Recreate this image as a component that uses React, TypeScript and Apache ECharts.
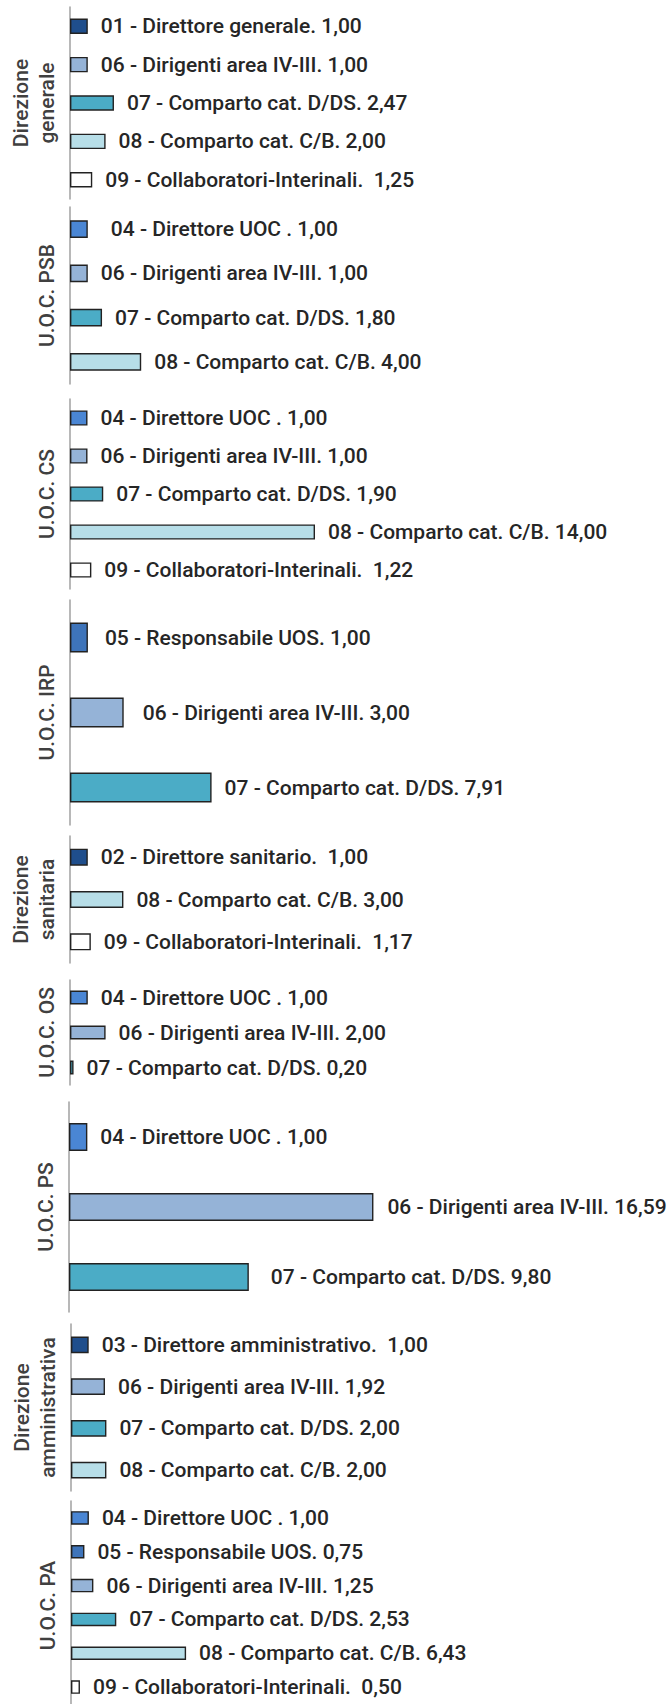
import React, { useEffect, useRef } from "react";
import * as echarts from "echarts";

// ---- Data ----
const titleDG = "Direzione\ngenerale";
const rolesDG = ["01 - Direttore generale.", "06 - Dirigenti area IV-III.", "07 - Comparto cat. D/DS.", "08 - Comparto cat. C/B.", "09 - Collaboratori-Interinali. "];
const valuesDG = [1.0, 1.0, 2.47, 2.0, 1.25];

const titlePSB = "U.O.C. PSB";
const rolesPSB = ["04 - Direttore UOC .", "06 - Dirigenti area IV-III.", "07 - Comparto cat. D/DS.", "08 - Comparto cat. C/B."];
const valuesPSB = [1.0, 1.0, 1.8, 4.0];

const titleCS = "U.O.C. CS";
const rolesCS = ["04 - Direttore UOC .", "06 - Dirigenti area IV-III.", "07 - Comparto cat. D/DS.", "08 - Comparto cat. C/B.", "09 - Collaboratori-Interinali. "];
const valuesCS = [1.0, 1.0, 1.9, 14.0, 1.22];

const titleIRP = "U.O.C. IRP";
const rolesIRP = ["05 - Responsabile UOS.", "06 - Dirigenti area IV-III.", "07 - Comparto cat. D/DS."];
const valuesIRP = [1.0, 3.0, 7.91];

const titleDS = "Direzione\nsanitaria";
const rolesDS = ["02 - Direttore sanitario. ", "08 - Comparto cat. C/B.", "09 - Collaboratori-Interinali. "];
const valuesDS = [1.0, 3.0, 1.17];

const titleOS = "U.O.C. OS";
const rolesOS = ["04 - Direttore UOC .", "06 - Dirigenti area IV-III.", "07 - Comparto cat. D/DS."];
const valuesOS = [1.0, 2.0, 0.2];

const titlePS = "U.O.C. PS";
const rolesPS = ["04 - Direttore UOC .", "06 - Dirigenti area IV-III.", "07 - Comparto cat. D/DS."];
const valuesPS = [1.0, 16.59, 9.8];

const titleDA = "Direzione\namministrativa";
const rolesDA = ["03 - Direttore amministrativo. ", "06 - Dirigenti area IV-III.", "07 - Comparto cat. D/DS.", "08 - Comparto cat. C/B."];
const valuesDA = [1.0, 1.92, 2.0, 2.0];

const titlePA = "U.O.C. PA";
const rolesPA = ["04 - Direttore UOC .", "05 - Responsabile UOS.", "06 - Dirigenti area IV-III.", "07 - Comparto cat. D/DS.", "08 - Comparto cat. C/B.", "09 - Collaboratori-Interinali. "];
const valuesPA = [1.0, 0.75, 1.25, 2.53, 6.43, 0.5];

const axisMax = 20;

// ---- Styles / layout ----
const roleColors: Record<string, string> = {
  "01": "#1F4E8C",
  "02": "#1F4E8C",
  "03": "#1F4E8C",
  "04": "#4A86D4",
  "05": "#3E74BA",
  "06": "#95B3D7",
  "07": "#4BACC6",
  "08": "#B7DEE8",
  "09": "#FFFFFF",
};

const panels = [
  { title: titleDG, roles: rolesDG, values: valuesDG },
  { title: titlePSB, roles: rolesPSB, values: valuesPSB },
  { title: titleCS, roles: rolesCS, values: valuesCS },
  { title: titleIRP, roles: rolesIRP, values: valuesIRP },
  { title: titleDS, roles: rolesDS, values: valuesDS },
  { title: titleOS, roles: rolesOS, values: valuesOS },
  { title: titlePS, roles: rolesPS, values: valuesPS },
  { title: titleDA, roles: rolesDA, values: valuesDA },
  { title: titlePA, roles: rolesPA, values: valuesPA },
];

const layout = [
  { top: 7, height: 192, left: 70, width: 356 },
  { top: 207, height: 177, left: 70, width: 356 },
  { top: 399, height: 190, left: 70, width: 350 },
  { top: 600, height: 225, left: 70, width: 358 },
  { top: 836, height: 127, left: 70, width: 356 },
  { top: 980, height: 105, left: 70, width: 356 },
  { top: 1102, height: 210, left: 69, width: 367 },
  { top: 1324, height: 167, left: 71, width: 354 },
  { top: 1501, height: 209, left: 71, width: 358 },
];

// per-label gap tweaks (panel-index:item-index -> px)
const labelGap: Record<string, number> = { "1:0": 23, "3:0": 17, "3:1": 19, "6:0": 13, "6:1": 14, "6:2": 22 };

const FONT = "Roboto";
const TITLE_GAP = 10;

const fmt = (v: number) => v.toFixed(2).replace(".", ",");

export default function App() {
  const ref = useRef<HTMLDivElement>(null);
  useEffect(() => {
    if (!ref.current) return;
    const chart = echarts.init(ref.current, undefined, { renderer: "svg" });
    const grid = layout.map((l) => ({ left: l.left, top: l.top, width: l.width, height: l.height, containLabel: false }));
    const xAxis = panels.map((_, i) => ({ type: "value", gridIndex: i, min: 0, max: axisMax, show: false }));
    const yAxis = panels.map((p, i) => ({
      type: "category",
      gridIndex: i,
      inverse: true,
      data: p.roles,
      axisLine: { show: true, lineStyle: { color: "#A0A0A0", width: 1.5 } },
      axisTick: { show: false },
      axisLabel: { show: false },
      splitLine: { show: false },
    }));
    const series = panels.map((p, i) => ({
      type: "bar",
      xAxisIndex: i,
      yAxisIndex: i,
      barCategoryGap: "60%",
      data: p.values.map((v, j) => {
        const gap = labelGap[`${i}:${j}`];
        return {
          value: v,
          itemStyle: { color: roleColors[p.roles[j].slice(0, 2)] },
          ...(gap != null ? { label: { distance: gap } } : {}),
        };
      }),
      itemStyle: { borderColor: "#222222", borderWidth: 1.4 },
      label: {
        show: true,
        position: "right",
        distance: 13,
        color: "#262626",
        fontFamily: FONT,
        fontSize: 21,
        fontWeight: 500,
        formatter: (prm: any) => `${prm.name} ${fmt(prm.value)}`,
      },
    }));
    const graphic = panels.map((p, i) => ({
      type: "text",
      x: layout[i].left - TITLE_GAP,
      y: layout[i].top + layout[i].height / 2,
      rotation: Math.PI / 2,
      silent: true,
      style: {
        text: p.title,
        fontFamily: FONT,
        fontSize: 21,
        fontWeight: 500,
        fill: "#404040",
        align: "center",
        verticalAlign: "bottom",
        lineHeight: 26,
      },
    }));
    chart.setOption({ animation: false, backgroundColor: "#ffffff", grid, xAxis, yAxis, series, graphic });
    return () => chart.dispose();
  }, []);
  return <div ref={ref} style={{ position: "absolute", left: 0, top: 0, width: 672, height: 1704 }} />;
}
